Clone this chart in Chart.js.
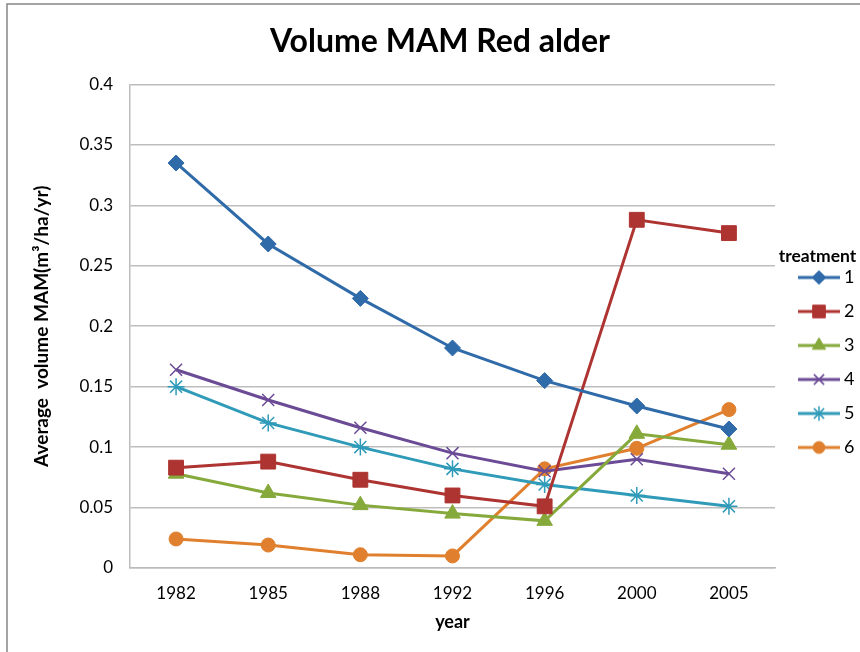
<!DOCTYPE html>
<html>
<head>
<meta charset="utf-8">
<script src="https://cdn.jsdelivr.net/npm/chart.js@4"></script>
<style>
  html, body { margin: 0; padding: 0; background: #fff; }
  #wrap { width: 860px; height: 652px; }
</style>
</head>
<body>
<div id="wrap"><canvas id="chart" width="860" height="652"></canvas></div>
<script>
// years on the x axis
const years = ['1982', '1985', '1988', '1992', '1996', '2000', '2005'];

// average volume MAM per treatment (m3/ha/yr)
const treatment1 = [0.335, 0.268, 0.223, 0.182, 0.155, 0.134, 0.115];
const treatment2 = [0.083, 0.088, 0.073, 0.060, 0.051, 0.288, 0.277];
const treatment3 = [0.078, 0.062, 0.052, 0.045, 0.039, 0.111, 0.102];
const treatment4 = [0.164, 0.139, 0.116, 0.095, 0.080, 0.090, 0.078];
const treatment5 = [0.150, 0.120, 0.100, 0.082, 0.069, 0.060, 0.051];
const treatment6 = [0.024, 0.019, 0.011, 0.010, 0.082, 0.099, 0.131];

const yMin = 0;
const yMax = 0.4;
const yStep = 0.05;

const FONT = 'Lato, "Open Sans", sans-serif';

const styles = [
    { label: '1', data: treatment1, color: '#2f6aa9', point: 'rectRot', radius: 8, bw: 1 },
    { label: '2', data: treatment2, color: '#ad3431', point: 'rect', radius: 10.5, bw: 1 },
    { label: '3', data: treatment3, color: '#86a93b', point: 'triangle', radius: 9, bw: 1 },
    { label: '4', data: treatment4, color: '#6b4b96', point: 'crossRot', radius: 8.5, bw: 1.5 },
    { label: '5', data: treatment5, color: '#2f9bb8', point: 'star', radius: 8.5, bw: 1.5 },
    { label: '6', data: treatment6, color: '#e0802e', point: 'circle', radius: 7, bw: 1 }
];

// small line + marker pictures for the legend
function legendIcon(s) {
    const c = document.createElement('canvas');
    c.width = 54;
    c.height = 20;
    const ctx = c.getContext('2d');
    ctx.strokeStyle = s.color;
    ctx.lineWidth = 3;
    ctx.beginPath();
    ctx.moveTo(12, 10);
    ctx.lineTo(54, 10);
    ctx.stroke();
    ctx.fillStyle = s.color;
    ctx.strokeStyle = s.color;
    ctx.lineWidth = s.bw;
    Chart.helpers.drawPoint(ctx, { pointStyle: s.point, radius: s.radius * 0.85, rotation: 0, borderWidth: s.bw }, 33, 10);
    return c;
}
const icons = styles.map(legendIcon);

const framePlugin = {
    id: 'frame',
    beforeDraw(chart) {
        const ctx = chart.ctx;
        ctx.save();
        ctx.fillStyle = '#fff';
        ctx.fillRect(0, 0, chart.width, chart.height);
        ctx.strokeStyle = '#878787';
        ctx.lineWidth = 1.5;
        ctx.beginPath();
        ctx.moveTo(7, chart.height);
        ctx.lineTo(7, 4);
        ctx.lineTo(chart.width, 4);
        ctx.stroke();
        ctx.restore();
    }
};

new Chart(document.getElementById('chart'), {
    type: 'line',
    data: {
        labels: years,
        datasets: styles.map(s => ({
            label: s.label,
            data: s.data,
            borderColor: s.color,
            backgroundColor: s.color,
            borderWidth: 3,
            pointStyle: s.point,
            pointRadius: s.radius,
            pointHoverRadius: s.radius,
            pointBorderWidth: s.bw,
            pointBackgroundColor: s.color,
            pointBorderColor: s.color,
            tension: 0,
            fill: false
        }))
    },
    options: {
        responsive: false,
        animation: false,
        layout: { padding: { left: 20, right: 0, top: 0, bottom: 0 } },
        plugins: {
            title: {
                display: true,
                text: 'Volume MAM Red alder',
                color: '#000',
                font: { family: FONT, size: 32, weight: 'bold' },
                padding: { top: 22, bottom: 24 }
            },
            legend: {
                position: 'right',
                maxWidth: 85,
                title: {
                    display: true,
                    text: 'treatment',
                    color: '#000',
                    font: { family: FONT, size: 17.5, weight: 'bold' },
                    padding: { top: 68, bottom: -16 }
                },
                labels: {
                    usePointStyle: true,
                    pointStyleWidth: 44,
                    padding: 16,
                    color: '#000',
                    font: { family: FONT, size: 18 },
                    generateLabels(chart) {
                        const base = Chart.defaults.plugins.legend.labels.generateLabels(chart);
                        return base.map((item, i) => ({ ...item, pointStyle: icons[i] }));
                    }
                }
            },
            tooltip: { enabled: false }
        },
        scales: {
            x: {
                offset: true,
                grid: { display: false, drawTicks: false },
                border: { color: '#bcbcbc', width: 1.5 },
                ticks: { color: '#000', font: { family: FONT, size: 17 }, padding: 15 },
                title: {
                    display: true,
                    text: 'year',
                    color: '#000',
                    font: { family: FONT, size: 18, weight: 'bold' },
                    padding: { top: 0, bottom: 19 }
                },
                afterFit(scale) { scale.height = 84; }
            },
            y: {
                min: yMin,
                max: yMax,
                grid: { color: '#bdbdbd', lineWidth: 1.5, drawTicks: false },
                border: { color: '#bcbcbc', width: 1.5 },
                ticks: {
                    stepSize: yStep,
                    color: '#000',
                    padding: 17,
                    font: { family: FONT, size: 17 },
                    callback: v => String(Number(v.toFixed(2)))
                },
                title: {
                    display: true,
                    text: 'Average  volume MAM(m³/ha/yr)',
                    color: '#000',
                    font: { family: FONT, size: 19, weight: 'bold' },
                    padding: { top: 10, bottom: 0 }
                },
                afterFit(scale) { scale.width = 110; }
            }
        }
    },
    plugins: [framePlugin]
});
</script>
</body>
</html>
